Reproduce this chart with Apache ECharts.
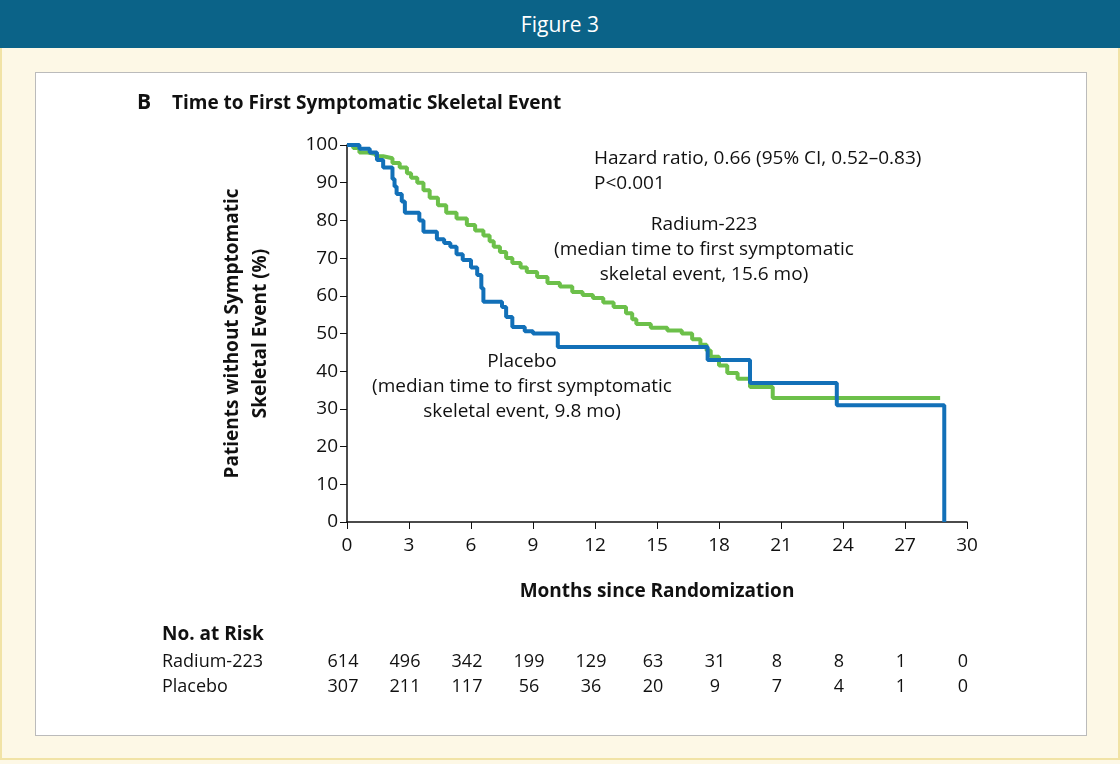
<!DOCTYPE html>
<html><head><meta charset="utf-8">
<script src="https://cdn.jsdelivr.net/npm/echarts@6/dist/echarts.min.js"></script>
<style>
html,body{margin:0;padding:0;width:1120px;height:764px;overflow:hidden;background:#fdf8e6;font-family:"Open Sans",sans-serif;}
#hdr{position:absolute;left:0;top:0;width:1120px;height:48px;background:#0b6388;color:#fff;font-size:21px;text-align:center;line-height:48px;}
#frame{position:absolute;left:0;top:48px;width:1116px;height:710px;border:2px solid #f1e3a6;border-top:none;}
#panel{position:absolute;left:35px;top:72px;width:1050px;height:662px;background:#fff;border:1px solid #bbb;}
#c{position:absolute;left:0;top:0;width:1120px;height:764px;}
</style></head><body>
<div id="hdr">Figure 3</div><div id="frame"></div><div id="panel"></div>
<div id="c"></div>
<script>
const xTicks=[0,3,6,9,12,15,18,21,24,27,30];
const radiumRisk=[614,496,342,199,129,63,31,8,8,1,0];
const placeboRisk=[307,211,117,56,36,20,9,7,4,1,0];
const radium=[[0,100],[0.3,99.2],[0.6,98],[1.0,97.6],[1.4,97],[1.75,96.5],[2.2,95.2],[2.55,94],[2.9,92.5],[3.1,91.3],[3.4,90],[3.7,88],[4.0,86],[4.4,84],[4.8,82],[5.3,80.5],[5.8,78.8],[6.2,77.3],[6.6,76],[6.9,74.5],[7.1,73],[7.4,71.6],[7.7,70],[8.0,68.7],[8.4,67.5],[8.7,66.3],[9.2,65],[9.7,63.4],[10.3,62.5],[10.9,61],[11.4,60.2],[11.9,59.4],[12.4,58.2],[12.9,57],[13.5,55.4],[13.8,53.8],[14.0,52.5],[14.7,51.5],[15.5,50.8],[16.2,50],[16.7,48.5],[17.1,47],[17.4,45.5],[17.6,43.8],[18.0,41.5],[18.4,39.5],[18.9,38],[19.5,35.8],[20.6,32.9],[28.7,32.9]];
const placebo=[[0,100],[0.6,99],[1.1,98],[1.45,96],[1.75,94],[2.2,91],[2.3,89],[2.4,87],[2.65,85],[2.8,82],[3.5,80],[3.7,77],[4.35,75],[4.7,74],[5.0,73],[5.3,71],[5.6,69.5],[6.0,67.5],[6.3,65.5],[6.5,62],[6.6,58.4],[7.5,57],[7.7,54.4],[8.0,51.7],[8.6,50.6],[9.0,50],[10.2,46.4],[17.45,43],[19.5,36.9],[23.7,31],[28.9,0],[28.9,0]];
const F='"Open Sans",sans-serif';
const chart=echarts.init(document.getElementById('c'));
const ctext=(x,y,t)=>({type:'text',x:x,y:y,style:{text:t,font:'19px '+F,fill:'#111',textAlign:'center',lineHeight:25}});
chart.setOption({
 animation:false,
 grid:{left:347,top:145,right:153,bottom:242},
 xAxis:{type:'value',min:0,max:30,interval:3,
  axisLine:{lineStyle:{color:'#111',width:1.5}},axisTick:{length:7,lineStyle:{color:'#111'}},
  axisLabel:{color:'#111',fontSize:19,fontFamily:F,margin:14},splitLine:{show:false},
  name:'Months since Randomization',nameLocation:'middle',nameGap:60,nameTextStyle:{fontSize:19,fontWeight:'bold',color:'#111',fontFamily:F}},
 yAxis:{type:'value',min:0,max:100,interval:10,
  axisLine:{show:true,lineStyle:{color:'#111',width:1.5}},axisTick:{show:true,length:7,lineStyle:{color:'#111'}},
  axisLabel:{color:'#111',fontSize:19,fontFamily:F,margin:9},splitLine:{show:false},
  name:'Patients without Symptomatic\nSkeletal Event (%)',nameLocation:'middle',nameGap:72,nameRotate:90,
  nameTextStyle:{fontSize:19,fontWeight:'bold',color:'#111',fontFamily:F,lineHeight:28}},
 series:[
  {type:'line',step:'end',data:radium,showSymbol:false,lineStyle:{color:'#6cc04a',width:4}},
  {type:'line',step:'end',data:placebo,showSymbol:false,lineStyle:{color:'#1270b8',width:4}}
 ]
});
const g=[
 {type:'text',left:137,top:93,style:{text:'B',font:'bold 21px '+F,fill:'#111'}},
 {type:'text',left:172,top:94,style:{text:'Time to First Symptomatic Skeletal Event',font:'bold 19px '+F,fill:'#111'}},
 {type:'text',left:594,top:146,style:{text:'Hazard ratio, 0.66 (95% CI, 0.52\u20130.83)\nP<0.001',font:'19px '+F,fill:'#111',lineHeight:25}},
 ctext(704,212,'Radium-223\n(median time to first symptomatic\nskeletal event, 15.6 mo)'),
 ctext(522,349,'Placebo\n(median time to first symptomatic\nskeletal event, 9.8 mo)'),
 {type:'text',left:162,top:625,style:{text:'No. at Risk',font:'bold 19px '+F,fill:'#111'}},
 {type:'text',left:162,top:653,style:{text:'Radium-223',font:'18px '+F,fill:'#111'}},
 {type:'text',left:162,top:678,style:{text:'Placebo',font:'18px '+F,fill:'#111'}}
];
xTicks.forEach((t,i)=>{
 const px=chart.convertToPixel({gridIndex:0},[t,0])[0]-4;
 g.push({type:'text',x:px,y:653,style:{text:String(radiumRisk[i]),font:'18px '+F,fill:'#111',textAlign:'center'}});
 g.push({type:'text',x:px,y:678,style:{text:String(placeboRisk[i]),font:'18px '+F,fill:'#111',textAlign:'center'}});
});
chart.setOption({graphic:g});
</script></body></html>
